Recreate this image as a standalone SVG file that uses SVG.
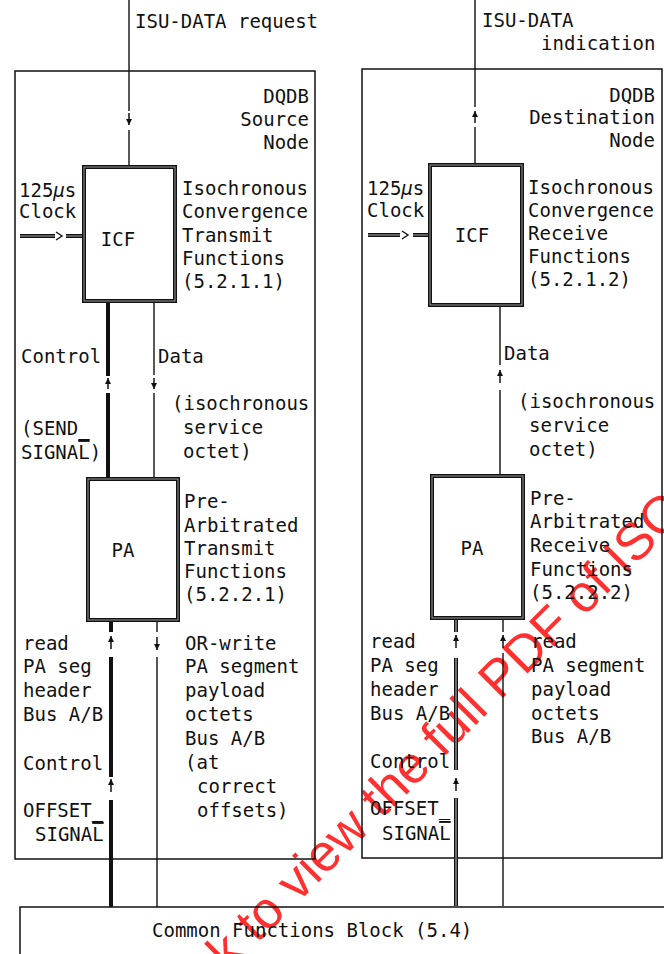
<svg xmlns="http://www.w3.org/2000/svg" width="664" height="954" viewBox="0 0 664 954">
<defs>
<style>
.t{font-family:"DejaVu Sans Mono","Liberation Mono",monospace;font-size:19px;fill:#111}
.e{text-anchor:end}
.m{text-anchor:middle}
.box{fill:none;stroke:#111;stroke-width:1.5}
.fr{fill:#fff;stroke:#111;stroke-width:4}
.fri{fill:none;stroke:#9a9a9a;stroke-width:1}
.ln{fill:none;stroke:#111;stroke-width:1.4}
.thk{fill:none;stroke:#111;stroke-width:4}
.dbl{fill:none;stroke:#111;stroke-width:4}
.dbli{fill:none;stroke:#aaa;stroke-width:1.2}
.ar{fill:none;stroke:#111;stroke-width:1.5;marker-end:url(#ah)}
.wm{font-family:"Liberation Sans",Arial,sans-serif;font-size:52px;fill:#ff3030}
</style>
<marker id="ah" viewBox="0 0 6 6" refX="6" refY="3" markerWidth="6" markerHeight="6" markerUnits="userSpaceOnUse" orient="auto">
<path d="M0,0 L6,3 L0,6 z" fill="#111"/>
</marker>
</defs>
<rect width="664" height="954" fill="#fff"/>

<g id="watermark">
<text class="wm" x="167" y="1034" transform="rotate(-45 167 1034)">Click to view the full PDF of ISO/IEC</text>
</g>

<g id="source-node">
<rect class="box" x="15" y="71" width="300" height="788"/>
<text class="t e" x="309" y="103">DQDB</text>
<text class="t e" x="309" y="126">Source</text>
<text class="t e" x="309" y="149">Node</text>
<text class="t" x="19" y="197">125<tspan font-style="italic">μ</tspan>s</text>
<text class="t" x="19" y="218">Clock</text>
<text class="t" x="182" y="195">Isochronous</text>
<text class="t" x="182" y="218">Convergence</text>
<text class="t" x="182" y="242">Transmit</text>
<text class="t" x="182" y="265">Functions</text>
<text class="t" x="182" y="288">(5.2.1.1)</text>
<text class="t" x="21" y="363">Control</text>
<text class="t" x="158" y="363">Data</text>
<text class="t" x="172" y="410">(isochronous</text>
<text class="t" x="183" y="434">service</text>
<text class="t" x="183" y="458">octet)</text>
<text class="t" x="21" y="435">(SEND_</text>
<text class="t" x="21" y="459">SIGNA<tspan style="text-decoration:overline">L</tspan>)</text>
<text class="t" x="184" y="508">Pre-</text>
<text class="t" x="184" y="532">Arbitrated</text>
<text class="t" x="184" y="555">Transmit</text>
<text class="t" x="184" y="578">Functions</text>
<text class="t" x="184" y="601">(5.2.2.1)</text>
<text class="t" x="23" y="650">read</text>
<text class="t" x="23" y="673">PA seg</text>
<text class="t" x="23" y="697">header</text>
<text class="t" x="23" y="721">Bus A/B</text>
<text class="t" x="23" y="770">Control</text>
<text class="t" x="23" y="817">OFFSET_</text>
<text class="t" x="35" y="841">SIGNA<tspan style="text-decoration:overline">L</tspan></text>
<text class="t" x="185" y="650">OR-write</text>
<text class="t" x="185" y="673">PA segment</text>
<text class="t" x="185" y="697">payload</text>
<text class="t" x="185" y="721">octets</text>
<text class="t" x="185" y="745">Bus A/B</text>
<text class="t" x="185" y="769">(at</text>
<text class="t" x="197" y="793">correct</text>
<text class="t" x="197" y="817">offsets)</text>
</g>

<g id="destination-node">
<rect class="box" x="362" y="69" width="300" height="789"/>
<text class="t e" x="655" y="102">DQDB</text>
<text class="t e" x="655" y="124">Destination</text>
<text class="t e" x="655" y="147">Node</text>
<text class="t" x="367" y="195">125<tspan font-style="italic">μ</tspan>s</text>
<text class="t" x="367" y="217">Clock</text>
<text class="t" x="528" y="194">Isochronous</text>
<text class="t" x="528" y="217">Convergence</text>
<text class="t" x="528" y="240">Receive</text>
<text class="t" x="528" y="263">Functions</text>
<text class="t" x="528" y="286">(5.2.1.2)</text>
<text class="t" x="504" y="360">Data</text>
<text class="t" x="518" y="408">(isochronous</text>
<text class="t" x="529" y="432">service</text>
<text class="t" x="529" y="456">octet)</text>
<text class="t" x="530" y="505">Pre-</text>
<text class="t" x="530" y="528">Arbitrated</text>
<text class="t" x="530" y="552">Receive</text>
<text class="t" x="530" y="576">Functions</text>
<text class="t" x="530" y="599">(5.2.2.2)</text>
<text class="t" x="370" y="648">read</text>
<text class="t" x="370" y="672">PA seg</text>
<text class="t" x="370" y="696">header</text>
<text class="t" x="370" y="720">Bus A/B</text>
<text class="t" x="370" y="768">Control</text>
<text class="t" x="370" y="815">OFFSET_</text>
<text class="t" x="382" y="840">SIGNA<tspan style="text-decoration:overline">L</tspan></text>
<text class="t" x="531" y="648">read</text>
<text class="t" x="531" y="672">PA segment</text>
<text class="t" x="531" y="696">payload</text>
<text class="t" x="531" y="720">octets</text>
<text class="t" x="531" y="743">Bus A/B</text>
</g>

<g id="common-block">
<rect class="box" x="20" y="907" width="680" height="80"/>
<text class="t" x="152" y="937">Common Functions Block (5.4)</text>
</g>

<g id="connectors">
<!-- source ISU request -->
<path class="ln" d="M129,0 V111 M129,130 V165"/>
<path class="ar" d="M129,113 V125"/>
<text class="t" x="135" y="28">ISU-DATA request</text>
<!-- destination ISU indication -->
<path class="ln" d="M475,0 V107 M475,127 V163"/>
<path class="ar" d="M475,123 V111"/>
<text class="t" x="482" y="27">ISU-DATA</text>
<text class="t" x="541" y="50">indication</text>
<!-- clocks -->
<path class="dbl" d="M20,236 H55 M66,236 H82"/>
<path class="dbli" d="M20,236 H55 M66,236 H82"/>
<path class="ln" d="M56,232 L62,236 L56,240"/>
<path class="dbl" d="M368,235 H400 M413,235 H428"/>
<path class="dbli" d="M368,235 H400 M413,235 H428"/>
<path class="ln" d="M402,231 L408,235 L402,239"/>
<!-- source ICF-PA -->
<path class="thk" d="M108,303 V376 M108,393 V477"/>
<path class="ar" d="M108,389 V378"/>
<path class="ln" d="M154,303 V375 M154,393 V477"/>
<path class="ar" d="M154,378 V389"/>
<!-- source PA-common -->
<path class="thk" d="M111,622 V632 M111,657 V777 M111,800 V907"/>
<path class="ar" d="M111,649 V636"/>
<path class="ar" d="M111,792 V779"/>
<path class="ln" d="M157,622 V632 M157,657 V907"/>
<path class="ar" d="M157,637 V650"/>
<!-- destination ICF-PA -->
<path class="ln" d="M500,307 V365 M500,390 V474"/>
<path class="ar" d="M500,383 V370"/>
<!-- destination PA-common -->
<path class="dbl" d="M456,620 V632 M456,658 V770 M456,798 V906"/>
<path class="dbli" d="M456,620 V632 M456,658 V770 M456,798 V906"/>
<path class="ar" d="M456,648 V635"/>
<path class="ar" d="M456,791 V778"/>
<path class="ln" d="M503,620 V632 M503,653 V906"/>
<path class="ar" d="M503,648 V635"/>
</g>

<g id="icf-tx">
<rect class="fr" x="84" y="167" width="91" height="134"/>
<rect class="fri" x="84" y="167" width="91" height="134"/>
<text class="t m" x="118" y="246">ICF</text>
</g>
<g id="pa-tx">
<rect class="fr" x="88" y="479" width="90" height="141"/>
<rect class="fri" x="88" y="479" width="90" height="141"/>
<text class="t m" x="123" y="557">PA</text>
</g>
<g id="icf-rx">
<rect class="fr" x="430" y="165" width="92" height="140"/>
<rect class="fri" x="430" y="165" width="92" height="140"/>
<text class="t m" x="472" y="242">ICF</text>
</g>
<g id="pa-rx">
<rect class="fr" x="432" y="476" width="91" height="142"/>
<rect class="fri" x="432" y="476" width="91" height="142"/>
<text class="t m" x="472" y="555">PA</text>
</g>
</svg>
